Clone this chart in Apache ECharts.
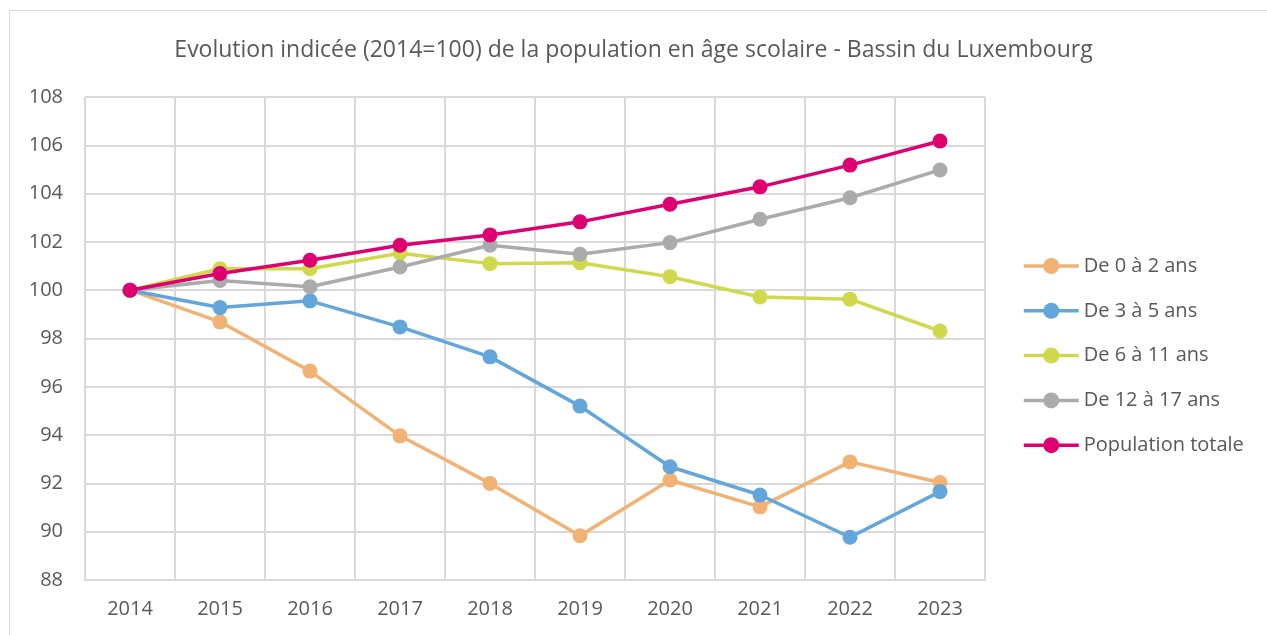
<!DOCTYPE html>
<html>
<head>
<meta charset="utf-8">
<script src="https://cdn.jsdelivr.net/npm/echarts@6/dist/echarts.min.js"></script>
<style>
  html, body { margin: 0; padding: 0; background: #fff; }
  #main { width: 1267px; height: 635px; position: relative; }
  #frame { position: absolute; left: 9px; top: 10px; width: 1300px; height: 700px;
           border: 1px solid #d9d9d9; pointer-events: none; }
</style>
</head>
<body>
<div style="position:relative;width:1267px;height:635px;overflow:hidden">
  <div id="frame"></div>
  <div id="main"></div>
</div>
<script>
// annees
var years = ['2014', '2015', '2016', '2017', '2018', '2019', '2020', '2021', '2022', '2023'];

// indices 2014=100
var age0to2   = [100, 98.69, 96.65, 93.97, 92.0, 89.83, 92.14, 91.03, 92.89, 92.04];
var age3to5   = [100, 99.28, 99.56, 98.48, 97.24, 95.2, 92.69, 91.52, 89.77, 91.66];
var age6to11  = [100, 100.89, 100.89, 101.53, 101.1, 101.14, 100.56, 99.72, 99.63, 98.31];
var age12to17 = [100, 100.4, 100.14, 100.96, 101.86, 101.49, 101.97, 102.94, 103.83, 104.98];
var totale    = [100, 100.69, 101.24, 101.86, 102.29, 102.83, 103.56, 104.28, 105.18, 106.18];

var seriesNames = ['De 0 à 2 ans', 'De 3 à 5 ans', 'De 6 à 11 ans', 'De 12 à 17 ans', 'Population totale'];
var seriesData = [age0to2, age3to5, age6to11, age12to17, totale];
var colors = ['#F1B273', '#62A6DB', '#CFD94B', '#ABABAB', '#DE0070'];

var font = '"Open Sans", sans-serif';
var chart = echarts.init(document.getElementById('main'));

var option = {
  animation: false,
  title: {
    text: 'Evolution indicée (2014=100) de la population en âge scolaire - Bassin du Luxembourg',
    left: 'center',
    top: 34,
    textStyle: { fontFamily: font, fontSize: 23, fontWeight: 'normal', color: '#595959' }
  },
  legend: {
    orient: 'vertical',
    left: 1022,
    top: 256,
    padding: 0,
    itemWidth: 55,
    itemHeight: 20,
    itemGap: 24.8,
    data: seriesNames,
    lineStyle: { width: 3.5 },
    textStyle: { fontFamily: font, fontSize: 20, color: '#595959' }
  },
  grid: { left: 85, right: 282, top: 97, bottom: 55, containLabel: false },
  xAxis: {
    type: 'category',
    data: years,
    boundaryGap: true,
    axisLine: { lineStyle: { color: '#d9d9d9', width: 2 } },
    axisTick: { show: false },
    splitLine: { show: true, lineStyle: { color: '#d9d9d9', width: 2 } },
    axisLabel: { fontFamily: font, fontSize: 20, color: '#595959', margin: 19, interval: 0 }
  },
  yAxis: {
    type: 'value',
    min: 88,
    max: 108,
    interval: 2,
    axisLine: { show: false },
    axisTick: { show: false },
    splitLine: { lineStyle: { color: '#d9d9d9', width: 2 } },
    axisLabel: { fontFamily: font, fontSize: 20, color: '#595959', margin: 22 }
  },
  series: seriesNames.map(function (name, i) {
    return {
      name: name,
      type: 'line',
      data: seriesData[i],
      symbol: 'circle',
      symbolSize: 15,
      color: colors[i],
      lineStyle: { width: 3.5 },
      z: 2 + i
    };
  })
};
chart.setOption(option);
</script>
</body>
</html>
